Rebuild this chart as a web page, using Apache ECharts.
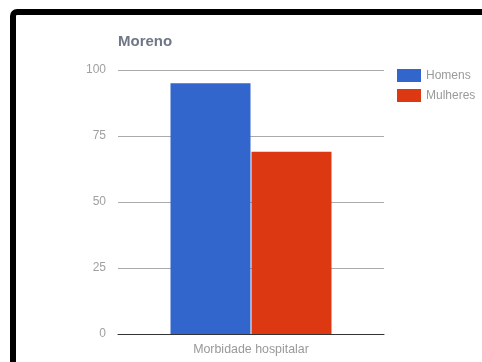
<!DOCTYPE html>
<html>
<head>
<meta charset="utf-8">
<style>
  html, body { margin: 0; padding: 0; background: #fff; }
  #chart { width: 482px; height: 362px; }
</style>
<script src="https://cdn.jsdelivr.net/npm/echarts@6/dist/echarts.min.js"></script>
</head>
<body>
<div id="chart"></div>
<script>
// Hospital morbidity, "Moreno" group, split by sex
const categories = ['Morbidade hospitalar'];
const seriesNames = ['Homens', 'Mulheres'];
const homens = [95];
const mulheres = [69];
const yTicks = [0, 25, 50, 75, 100];

const chart = echarts.init(document.getElementById('chart'), null, { renderer: 'canvas' });

chart.setOption({
  animation: false,
  backgroundColor: '#fff',
  textStyle: { fontFamily: 'Liberation Sans, Arial, sans-serif' },
  graphic: [{
    type: 'rect',
    z: 100,
    silent: true,
    shape: { x: 13, y: 12, width: 520, height: 420, r: 4 },
    style: { fill: 'none', stroke: '#000', lineWidth: 6 }
  }],
  title: {
    text: 'Moreno',
    left: 113,
    top: 29,
    textStyle: { color: '#6f7686', fontSize: 15, fontWeight: 'bold', fontFamily: 'Liberation Sans, Arial, sans-serif' }
  },
  legend: {
    orient: 'vertical',
    left: 397,
    top: 69,
    padding: 0,
    itemWidth: 24,
    itemHeight: 13,
    itemGap: 7,
    icon: 'rect',
    data: seriesNames,
    textStyle: { color: '#9a9a9a', fontSize: 12 }
  },
  grid: { left: 118, right: 98, top: 70, bottom: 28, containLabel: false },
  xAxis: {
    type: 'category',
    data: categories,
    axisTick: { show: false },
    axisLine: { lineStyle: { color: '#333', width: 1 } },
    axisLabel: { color: '#999', fontSize: 12.4, margin: 10 }
  },
  yAxis: {
    type: 'value',
    min: yTicks[0],
    max: yTicks[yTicks.length - 1],
    interval: yTicks[1] - yTicks[0],
    axisLine: { show: false },
    axisTick: { show: false },
    axisLabel: { color: '#a0a0a0', fontSize: 12, margin: 12 },
    splitLine: { lineStyle: { color: '#aaa', width: 1 } }
  },
  series: [
    {
      name: seriesNames[0],
      type: 'bar',
      data: homens,
      barWidth: 80,
      barGap: '1.25%',
      itemStyle: { color: '#3366cc' }
    },
    {
      name: seriesNames[1],
      type: 'bar',
      data: mulheres,
      barWidth: 80,
      barGap: '1.25%',
      itemStyle: { color: '#dc3912' }
    }
  ]
});
</script>
</body>
</html>
